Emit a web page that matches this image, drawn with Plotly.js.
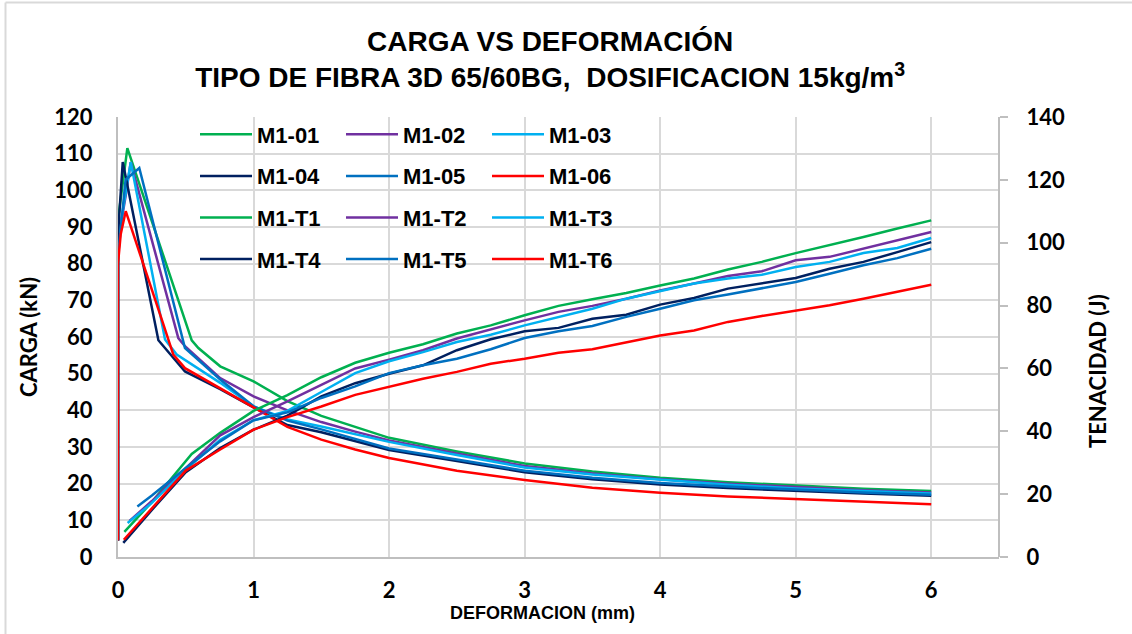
<!DOCTYPE html>
<html><head><meta charset="utf-8">
<script src="https://cdn.plot.ly/plotly-3.0.1.min.js"></script>
<style>html,body{margin:0;padding:0;background:#fff;}#chart{width:1132px;height:634px;}</style>
</head><body><div id="chart"></div>
<script>
// ---- data ----
const names = ["M1-01","M1-02","M1-03","M1-04","M1-05","M1-06","M1-T1","M1-T2","M1-T3","M1-T4","M1-T5","M1-T6"];
const colors = ["#00B050","#7030A0","#00B0F0","#002060","#0070C0","#FF0000"];

// Carga (kN) vs deformacion (mm)
const x01 = [0,0,0.069,0.544,0.593,0.754,1.0,1.25,1.5,1.75,2.0,2.5,3.0,3.5,4.0,4.5,5.0,5.5,6.0];
const y01 = [4.5,92,111.5,59.1,57,52,47.9,42.5,38.5,35.5,32.5,28.8,25.5,23.3,21.6,20.4,19.4,18.6,18.0];
const x02 = [0,0,0.056,0.094,0.445,0.494,0.754,1.0,1.25,1.5,1.75,2.0,2.5,3.0,3.5,4.0,4.5,5.0,5.5,6.0];
const y02 = [4.5,86,98.4,107.7,59.7,57.5,48.8,43.8,40.0,36.8,34.2,31.8,28.2,24.8,22.8,21.2,20.0,19.0,18.2,17.6];
const x03 = [0,0,0.094,0.347,0.433,0.754,1.0,1.25,1.5,1.75,2.0,2.5,3.0,3.5,4.0,4.5,5.0,5.5,6.0];
const y03 = [4.5,86.5,107.7,59.3,55.2,47.5,41.1,37.5,35.6,33.5,31.4,27.8,24.4,22.5,21.0,19.7,18.7,18.0,17.3];
const x04 = [0,0,0.035,0.298,0.494,0.754,1.0,1.25,1.5,1.75,2.0,2.5,3.0,3.5,4.0,4.5,5.0,5.5,6.0];
const y04 = [4.5,88,107.7,59.1,50.6,45.8,40.8,36.0,34.0,31.5,29.2,26.2,23.1,21.2,19.8,18.8,18.0,17.3,16.7];
const x05 = [0,0,0.056,0.157,0.494,0.754,1.0,1.25,1.5,1.75,2.0,2.5,3.0,3.5,4.0,4.5,5.0,5.5,6.0];
const y05 = [4.5,82,102.9,106.1,57,48.4,41.1,37.2,34.8,32.2,29.6,26.6,23.5,21.6,20.2,19.2,18.3,17.6,17.0];
const x06 = [0,0,0.02,0.057,0.33,0.408,0.494,0.754,1.0,1.25,1.5,1.75,2.0,2.5,3.0,3.5,4.0,4.5,5.0,5.5,6.0];
const y06 = [4.5,80,88,94.3,64,55.2,51.5,45.9,40.8,35.5,32.0,29.3,27.0,23.5,21.0,18.9,17.5,16.5,15.8,15.0,14.4];

// Tenacidad (J) vs deformacion (mm)
const xTail = [1.0,1.25,1.5,1.75,2.0,2.25,2.5,2.75,3.0,3.25,3.5,3.75,4.0,4.25,4.5,4.75,5.0,5.25,5.5,5.75,6.0];
const xT1 = [0.047,0.25,0.544,0.754].concat(xTail);
const yT1 = [8.0,17.5,32.8,39.5,46.5,51.5,57.2,61.8,65.0,67.7,71.1,73.7,76.9,79.9,82.0,84.0,86.4,88.6,91.5,93.9,96.7,99.2,101.8,104.5,107.1];
const xT2 = [0.085,0.25,0.5,0.754].concat(xTail);
const yT2 = [11.5,17.8,28.3,38.7,44.5,49.5,54.8,60.0,62.8,65.8,69.5,72.5,75.3,78.0,79.9,82.2,84.8,87.0,89.4,90.9,94.4,95.5,98.1,100.8,103.4];
const xT3 = [0.071,0.25,0.5,0.754].concat(xTail);
const yT3 = [10.8,17.2,27.8,37.3,43.5,46.5,52.5,58.5,62.3,65.2,68.4,70.7,73.7,76.4,79.0,82.2,84.5,87.0,88.6,89.8,92.3,93.9,96.7,98.3,101.5];
const xT4 = [0.039,0.25,0.5,0.754].concat(xTail);
const yT4 = [4.5,15.0,27.0,34.7,40.5,45.0,51.1,55.3,58.3,61.0,65.8,69.3,71.8,72.9,75.8,77.1,80.3,82.4,85.4,87.0,88.8,91.7,93.9,97.0,100.2];
const xT5 = [0.143,0.25,0.5,0.754].concat(xTail);
const yT5 = [16.1,19.6,28.3,36.8,43.5,46.0,50.6,54.3,58.5,61.0,63.1,66.1,69.7,71.8,73.5,76.4,79.0,81.7,83.5,85.6,87.5,90.1,92.8,95.1,98.1];
const xT6 = [0.043,0.25,0.5,0.754].concat(xTail);
const yT6 = [5.5,15.4,27.5,34.2,40.5,44.5,47.9,51.6,54.2,56.7,58.9,61.5,63.1,65.0,66.1,68.2,70.5,72.1,74.8,76.7,78.5,80.1,82.2,84.3,86.6];

const xs = [x01,x02,x03,x04,x05,x06,xT1,xT2,xT3,xT4,xT5,xT6];
const ys = [y01,y02,y03,y04,y05,y06,yT1,yT2,yT3,yT4,yT5,yT6];

const xTicks = [0,1,2,3,4,5,6];
const yTicks = [0,10,20,30,40,50,60,70,80,90,100,110,120];
const y2Ticks = [0,20,40,60,80,100,120,140];

// ---- traces ----
const legendIds = ["legend","legend2","legend3"];
const traces = names.map((n,i)=>({
  type:"scatter", mode:"lines", name:n,
  x: xs[i], y: ys[i],
  yaxis: i<6 ? "y" : "y2",
  line:{color: colors[i%6], width:2.5},
  legend: legendIds[i%3],
  legendgroup: n,
  hoverinfo:"skip"
}));

const tickFont = {family:"Lato, Carlito, sans-serif", size:22, weight:"bold", color:"#000"};
const legFont = {family:"Liberation Sans, Arial, sans-serif", size:22, weight:"bold", color:"#000"};
function leg(x){
  return {x:x, y:1.008, xanchor:"left", yanchor:"top", bgcolor:"rgba(0,0,0,0)",
    font:legFont, itemwidth:52, tracegroupgap:10, traceorder:"grouped", borderwidth:0};
}

const W = 881, H = 440; // plot size px
const layout = {
  width:1132, height:634,
  margin:{l:118, r:133, t:117, b:77, pad:0},
  paper_bgcolor:"#fff", plot_bgcolor:"#fff",
  title:{text:"CARGA VS DEFORMACIÓN<br>TIPO DE FIBRA 3D 65/60BG,  DOSIFICACION 15kg/m<sup>3</sup>",
    font:{family:"Liberation Sans, Arial, sans-serif", size:28, weight:"bold", color:"#000"},
    xref:"container", x:0.486, xanchor:"center", yref:"container", y:1-51/634, yanchor:"top"},
  showlegend:true,
  legend:leg((195-118)/W), legend2:leg((341-118)/W), legend3:leg((487-118)/W),
  xaxis:{range:[0,6.5], tickvals:xTicks, ticktext:xTicks.map(String), showgrid:true, gridcolor:"#D9D9D9", gridwidth:2,
    showline:true, linecolor:"#BFBFBF", linewidth:2, zeroline:false, ticks:"", tickfont:tickFont,
    ticklabelstandoff:13, fixedrange:true},
  yaxis:{range:[0,120], tickvals:yTicks, ticktext:yTicks.map(String), showgrid:true, gridcolor:"#D9D9D9", gridwidth:2,
    showline:true, linecolor:"#BFBFBF", linewidth:2, zeroline:false, ticks:"", tickfont:tickFont,
    ticklabelstandoff:19,
    title:{text:"CARGA (kN)", font:{family:"Lato, Carlito, sans-serif", size:22, weight:"bold", color:"#000"}, standoff:11}},
  yaxis2:{range:[0,140], tickvals:y2Ticks, ticktext:y2Ticks.map(String), overlaying:"y", side:"right", showgrid:false,
    showline:true, linecolor:"#BFBFBF", linewidth:2, zeroline:false, ticks:"outside", ticklen:8, tickwidth:2, tickcolor:"#BFBFBF",
    tickfont:tickFont, ticklabelstandoff:14, anchor:"free", position:1},
  annotations:[
    {text:"DEFORMACION (mm)", xref:"paper", yref:"paper", x:(542-118)/W, y:(557-613)/H, xanchor:"center", yanchor:"middle",
      showarrow:false, font:{family:"Liberation Sans, Arial, sans-serif", size:18, weight:"bold", color:"#000"}},
    {text:"TENACIDAD (J)", xref:"paper", yref:"paper", x:(1097-118)/W, y:(557-371)/H, xanchor:"center", yanchor:"middle",
      textangle:-90, showarrow:false, font:{family:"Lato, Carlito, sans-serif", size:22, weight:"bold", color:"#000"}}
  ],
  shapes:[
    {type:"line", xref:"paper", yref:"paper", x0:(5.5-118)/W, x1:(5.5-118)/W, y0:(557-2.5)/H, y1:(557-640)/H, line:{color:"#D9D9D9", width:2}},
    {type:"line", xref:"paper", yref:"paper", x0:(5.5-118)/W, x1:(1140-118)/W, y0:(557-2.5)/H, y1:(557-2.5)/H, line:{color:"#D9D9D9", width:2}}
  ]
};

Plotly.newPlot("chart", traces, layout, {staticPlot:true, displayModeBar:false});
</script></body></html>
